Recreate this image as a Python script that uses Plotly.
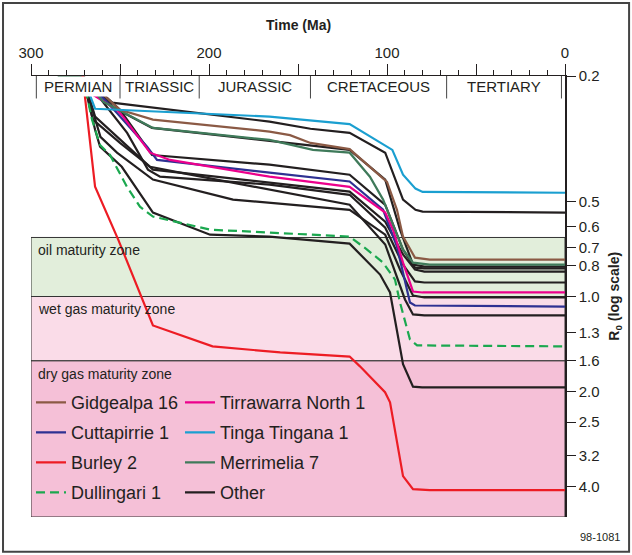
import numpy as np
import plotly.graph_objects as go

# Values: age (Ma) and vitrinite reflectance R0 (%)
gidgealpa_age = [271, 250, 231.5, 166, 154.5, 143, 121, 100, 94.4, 91, 84.3, 76, 0]
gidgealpa_ro = [0.20, 0.256, 0.275, 0.300, 0.308, 0.326, 0.341, 0.433, 0.531, 0.646, 0.753, 0.764, 0.764]

cuttapirrie_age = [271, 251.7, 234.8, 229.2, 166, 121, 102.2, 94.4, 87.1, 84.3, 0]
cuttapirrie_ro = [0.20, 0.262, 0.335, 0.369, 0.405, 0.432, 0.531, 0.695, 1.045, 1.068, 1.076]

burley_age = [271, 264, 251, 231.5, 198, 160, 121, 115.2, 101.1, 98.3, 91, 85.4, 76, 0]
burley_ro = [0.20, 0.449, 0.660, 1.235, 1.439, 1.504, 1.55, 1.665, 2.01, 2.165, 3.71, 4.08, 4.11, 4.11]

dullingari_age = [271, 268, 265.7, 261.2, 255.6, 246.1, 238.8, 231.5, 216.3, 199.4, 166, 121,
                  111.2, 102.2, 95.5, 92.7, 87.1, 83.1, 0]
dullingari_ro = [0.20, 0.238, 0.275, 0.331, 0.356, 0.449, 0.519, 0.558, 0.583, 0.614, 0.627, 0.646,
                 0.710, 0.781, 0.884, 1.045, 1.368, 1.429, 1.439]

tirrawarra_age = [271, 267, 251.7, 248.3, 233.1, 221.9, 166, 121, 101, 96.6, 91, 85.4, 80, 0]
tirrawarra_ro = [0.20, 0.226, 0.256, 0.269, 0.350, 0.369, 0.417, 0.449, 0.542, 0.614, 0.781, 0.964, 0.971, 0.971]

tinga_age = [271, 264, 166, 121, 97, 91, 84, 80, 0]
tinga_ro = [0.20, 0.254, 0.269, 0.284, 0.343, 0.411, 0.455, 0.466, 0.469]

merrimelia_age = [285, 271, 259.6, 231.5, 166, 141.6, 121, 109.6, 102.2, 95.5, 91, 85.4, 76, 0]
merrimelia_ro = [0.20, 0.20, 0.241, 0.292, 0.319, 0.343, 0.350, 0.417, 0.493, 0.614, 0.710, 0.781, 0.792, 0.792]

# "Other" wells (all drawn in black)
other_ages = [
    [271, 254.5, 166, 143, 121, 101, 91, 84, 80, 0],
    [271, 254, 232, 166, 121, 101, 92.7, 85.4, 79, 0],
    [271, 250, 232, 166, 121, 101, 91, 84.3, 79, 0],
    [271, 264, 231.5, 166, 121, 101, 91, 84.3, 79, 0],
    [271, 246, 234.3, 227.5, 166, 121, 101, 91, 84.3, 79, 0],
    [271, 261, 251.7, 231.5, 186.5, 166, 121, 101, 92.7, 85.4, 79, 0],
    [271, 265.2, 250, 233.1, 216.3, 166, 121, 101, 89.9, 85.4, 79, 0],
    [271, 264, 261.2, 249, 231.5, 199.4, 166, 121, 103.9, 98.3, 91, 85.4, 80.3, 0],
]
other_ros = [
    [0.20, 0.243, 0.279, 0.294, 0.303, 0.350, 0.493, 0.531, 0.538, 0.542],
    [0.20, 0.251, 0.292, 0.321, 0.343, 0.426, 0.614, 0.792, 0.804, 0.804],
    [0.20, 0.256, 0.356, 0.382, 0.411, 0.512, 0.710, 0.810, 0.815, 0.815],
    [0.20, 0.269, 0.396, 0.436, 0.465, 0.579, 0.736, 0.821, 0.834, 0.834],
    [0.20, 0.303, 0.396, 0.417, 0.442, 0.476, 0.605, 0.792, 0.896, 0.903, 0.903],
    [0.20, 0.312, 0.350, 0.426, 0.493, 0.504, 0.531, 0.637, 0.821, 0.993, 1.007, 1.007],
    [0.20, 0.275, 0.326, 0.388, 0.405, 0.458, 0.512, 0.684, 1.022, 1.14, 1.148, 1.148],
    [0.20, 0.296, 0.335, 0.388, 0.542, 0.637, 0.646, 0.680, 0.852, 0.971, 1.64, 1.93, 1.94, 1.94],
]

zone_names = ["oil maturity zone", "wet gas maturity zone", "dry gas maturity zone"]
zone_bounds = [0.65, 1.0, 1.6, 5.0]
zone_colors = ["#e2eedb", "#fadce8", "#f5c0d7"]

period_names = ["PERMIAN", "TRIASSIC", "JURASSIC", "CRETACEOUS", "TERTIARY"]
period_bounds = [297, 250, 205.5, 143, 66.5, 2]

ro_ticks = [0.2, 0.5, 0.6, 0.7, 0.8, 1.0, 1.3, 1.6, 2.0, 2.5, 3.2, 4.0]
age_ticks = [300, 250, 200, 150, 100, 50, 0]

FONT = "Liberation Sans, Arial, Helvetica, sans-serif"
INK = "#231f20"

fig = go.Figure()

# black "Other" wells first so coloured ones sit on top
for i, (a, r) in enumerate(zip(other_ages, other_ros)):
    fig.add_trace(go.Scatter(
        x=a, y=r, mode="lines", line=dict(color=INK, width=2.2),
        name="Other", legendgroup="other", showlegend=(i == 0),
        legend="legend2", legendrank=4,
    ))

wells = [
    ("Dullingari 1", dullingari_age, dullingari_ro, "#1ba84f", "9px,5px", "legend", 4),
    ("Cuttapirrie 1", cuttapirrie_age, cuttapirrie_ro, "#2e3192", "solid", "legend", 2),
    ("Tirrawarra North 1", tirrawarra_age, tirrawarra_ro, "#ec008c", "solid", "legend2", 1),
    ("Merrimelia 7", merrimelia_age, merrimelia_ro, "#3f7a5a", "solid", "legend2", 3),
    ("Gidgealpa 16", gidgealpa_age, gidgealpa_ro, "#8b5a45", "solid", "legend", 1),
    ("Tinga Tingana 1", tinga_age, tinga_ro, "#1a9fd0", "solid", "legend2", 2),
    ("Burley 2", burley_age, burley_ro, "#ed1c24", "solid", "legend", 3),
]
for name, a, r, col, dash, leg, rank in wells:
    fig.add_trace(go.Scatter(
        x=a, y=r, mode="lines", line=dict(color=col, width=2.2, dash=dash),
        name=name, legendgroup=name, legend=leg, legendrank=rank,
    ))

shapes = []
# maturity zones (log axis: shapes take data values)
for i, name in enumerate(zone_names):
    shapes.append(dict(
        type="rect", xref="x", yref="y", layer="below",
        x0=300, x1=0, y0=zone_bounds[i], y1=zone_bounds[i + 1],
        fillcolor=zone_colors[i], line=dict(color="#333333", width=1),
    ))
# period boundary bars under the time axis
for b in period_bounds:
    shapes.append(dict(type="line", xref="x", yref="paper", x0=b, x1=b, y0=0.949, y1=1,
                       line=dict(color="#444444", width=1)))
# legend box
shapes.append(dict(type="rect", xref="paper", yref="paper", layer="below",
                   x0=0.0112, x1=0.642, y0=0.0204, y1=0.290,
                   fillcolor="#f5c0d7", line=dict(color="#555555", width=1)))
# outer frame
shapes.append(dict(type="rect", xref="paper", yref="paper",
                   x0=-0.0524, x1=1.12, y0=-0.079, y1=1.1655,
                   line=dict(color="#444444", width=2)))


def label(text, x, y, size, xref="paper", **kw):
    base = dict(x=x, y=y, xref=xref, yref="paper", text=text, showarrow=False,
                xanchor="center", yanchor="middle",
                font=dict(family=FONT, size=size, color=INK))
    base.update(kw)
    return base


annotations = []
for i, name in enumerate(period_names):
    mid = (period_bounds[i] + period_bounds[i + 1]) / 2
    annotations.append(label(name, mid, 0.977, 15, xref="x", bgcolor="white"))
for name, ypos in zip(zone_names, [0.605, 0.472, 0.324]):
    annotations.append(label(name, 0.009, ypos, 14, xanchor="left"))
annotations.append(label("<b>Time (Ma)</b>", 0.5, 1.116, 14))
annotations.append(label("<b>R<sub>0</sub> (log scale)</b>", 1.092, 0.5, 14, textangle=-90))
annotations.append(label("98-1081", 1.0655, -0.045, 11))

legend_style = dict(
    bgcolor="rgba(0,0,0,0)", borderwidth=0, orientation="v",
    xanchor="left", yanchor="top", tracegroupgap=3.6,
    font=dict(family=FONT, size=18, color=INK),
)

fig.update_layout(
    width=632, height=555,
    margin=dict(l=31, r=67, t=76, b=38),
    paper_bgcolor="white", plot_bgcolor="white",
    showlegend=True,
    legend=dict(x=0.0, y=0.301, **legend_style),
    legend2=dict(x=0.279, y=0.301, **legend_style),
    shapes=shapes, annotations=annotations,
    xaxis=dict(
        range=[300, 0], side="top", showgrid=False, zeroline=False,
        showline=True, linecolor=INK, linewidth=1.2,
        tickmode="array", tickvals=age_ticks,
        ticktext=[str(v) if v % 100 == 0 else "" for v in age_ticks],
        ticks="outside", ticklen=11, tickcolor=INK, tickwidth=1.2,
        minor=dict(dtick=10, ticks="outside", ticklen=5, tickcolor=INK, tickwidth=1),
        tickfont=dict(family=FONT, size=15, color=INK),
    ),
    yaxis=dict(
        type="log", range=[np.log10(5), np.log10(0.2)], side="right",
        showgrid=False, zeroline=False, showline=True, linecolor=INK, linewidth=1.5,
        tickmode="array", tickvals=ro_ticks, ticktext=[f"{v:.1f}" for v in ro_ticks],
        ticks="outside", ticklen=9, tickcolor=INK, tickwidth=1.2,
        tickfont=dict(family=FONT, size=15, color=INK),
    ),
)

# drop the browser's default 8px body margin so the figure fills the window
fig.write_html("out.html", config={"displayModeBar": False},
               post_script="document.body.style.margin='0';")
